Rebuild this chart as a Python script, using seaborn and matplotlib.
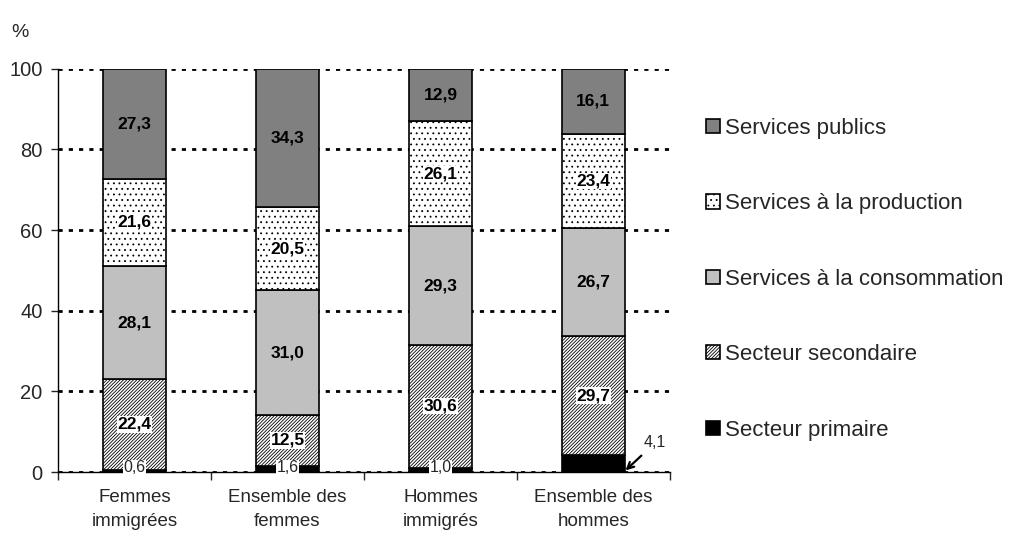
import numpy as np
import matplotlib
matplotlib.use("Agg")
import matplotlib.pyplot as plt
import seaborn as sns

categories = ["Femmes\nimmigrées", "Ensemble des\nfemmes", "Hommes\nimmigrés", "Ensemble des\nhommes"]
series = ["Secteur primaire", "Secteur secondaire", "Services à la consommation",
          "Services à la production", "Services publics"]
primaire = [0.6, 1.6, 1.0, 4.1]
secondaire = [22.4, 12.5, 30.6, 29.7]
consommation = [28.1, 31.0, 29.3, 26.7]
production = [21.6, 20.5, 26.1, 23.4]
publics = [27.3, 34.3, 12.9, 16.1]
yticks = [0, 20, 40, 60, 80, 100]

values = [primaire, secondaire, consommation, production, publics]
faces = ["black", "white", "#c0c0c0", "white", "#808080"]
hatches = [None, "//////////", None, "...", None]

sns.set_style("white")
plt.rcParams["font.family"] = ["Liberation Sans", "DejaVu Sans"]
plt.rcParams["hatch.linewidth"] = 0.6

fig = plt.figure(figsize=(10.18, 5.37), dpi=100)
ax = fig.add_axes([0.057, 0.121, 0.601, 0.751])

x = np.arange(len(categories))
bottom = np.zeros(len(categories))
handles = []
for name, vals, fc, h in zip(series, values, faces, hatches):
    sns.barplot(x=x, y=vals, ax=ax, bottom=bottom, color=fc, facecolor=fc,
                edgecolor="black", linewidth=1.2, hatch=h, width=0.41,
                native_scale=True, zorder=3)
    handles.append(ax.containers[-1].patches[0])
    vals = np.array(vals)
    for i in range(len(x)):
        v = vals[i]
        mid = bottom[i] + v / 2
        txt = f"{v:.1f}".replace(".", ",")
        if name == "Secteur primaire":
            if i < 3:
                ax.text(x[i], 1.0, txt, ha="center", va="center", fontsize=11.5, zorder=5,
                        bbox=dict(facecolor="white", edgecolor="none", pad=0.3))
            else:
                ax.annotate(txt, xy=(3.21, 0.4), xytext=(3.33, 7.2), ha="left", va="center",
                            fontsize=11.5, zorder=5,
                            arrowprops=dict(arrowstyle="->", color="black", lw=1.6,
                                            shrinkA=2, shrinkB=0))
        else:
            box = dict(facecolor="white", edgecolor="none", pad=0.5) if h else None
            ax.text(x[i], mid, txt, ha="center", va="center", fontsize=12.5,
                    fontweight="bold", color="black", zorder=5, bbox=box)
    bottom = bottom + vals

ax.set_xlim(-0.5, 3.5)
ax.set_ylim(0, 100)
ax.set_yticks(yticks)
ax.set_xticks(x)
ax.set_xticklabels(categories, fontsize=13.5, linespacing=1.6)
ax.tick_params(axis="y", labelsize=14.5, length=5, width=1, direction="out", left=True, pad=6)
ax.set_xticks([-0.5, 0.5, 1.5, 2.5, 3.5], minor=True)
ax.tick_params(axis="x", which="major", length=0, pad=12)
ax.tick_params(axis="x", which="minor", length=6, width=1, direction="out", bottom=True)
for s in ["top", "right"]:
    ax.spines[s].set_visible(False)
for s in ["left", "bottom"]:
    ax.spines[s].set_color("black")
    ax.spines[s].set_linewidth(1)
ax.yaxis.grid(True, color="black", linestyle=(0, (1.5, 2.2)), linewidth=2, zorder=0)
ax.set_axisbelow(True)
ax.set_xlabel("")
ax.set_ylabel("")
fig.text(0.02, 0.94, "%", fontsize=14, ha="center", va="center")

leg = fig.legend(handles[::-1], series[::-1], loc="upper left", bbox_to_anchor=(0.685, 0.797),
                 frameon=False, fontsize=16, handlelength=0.6, handleheight=0.6,
                 handletextpad=0.25, labelspacing=2.45, borderaxespad=0)

fig.savefig("out.png", dpi=100)
